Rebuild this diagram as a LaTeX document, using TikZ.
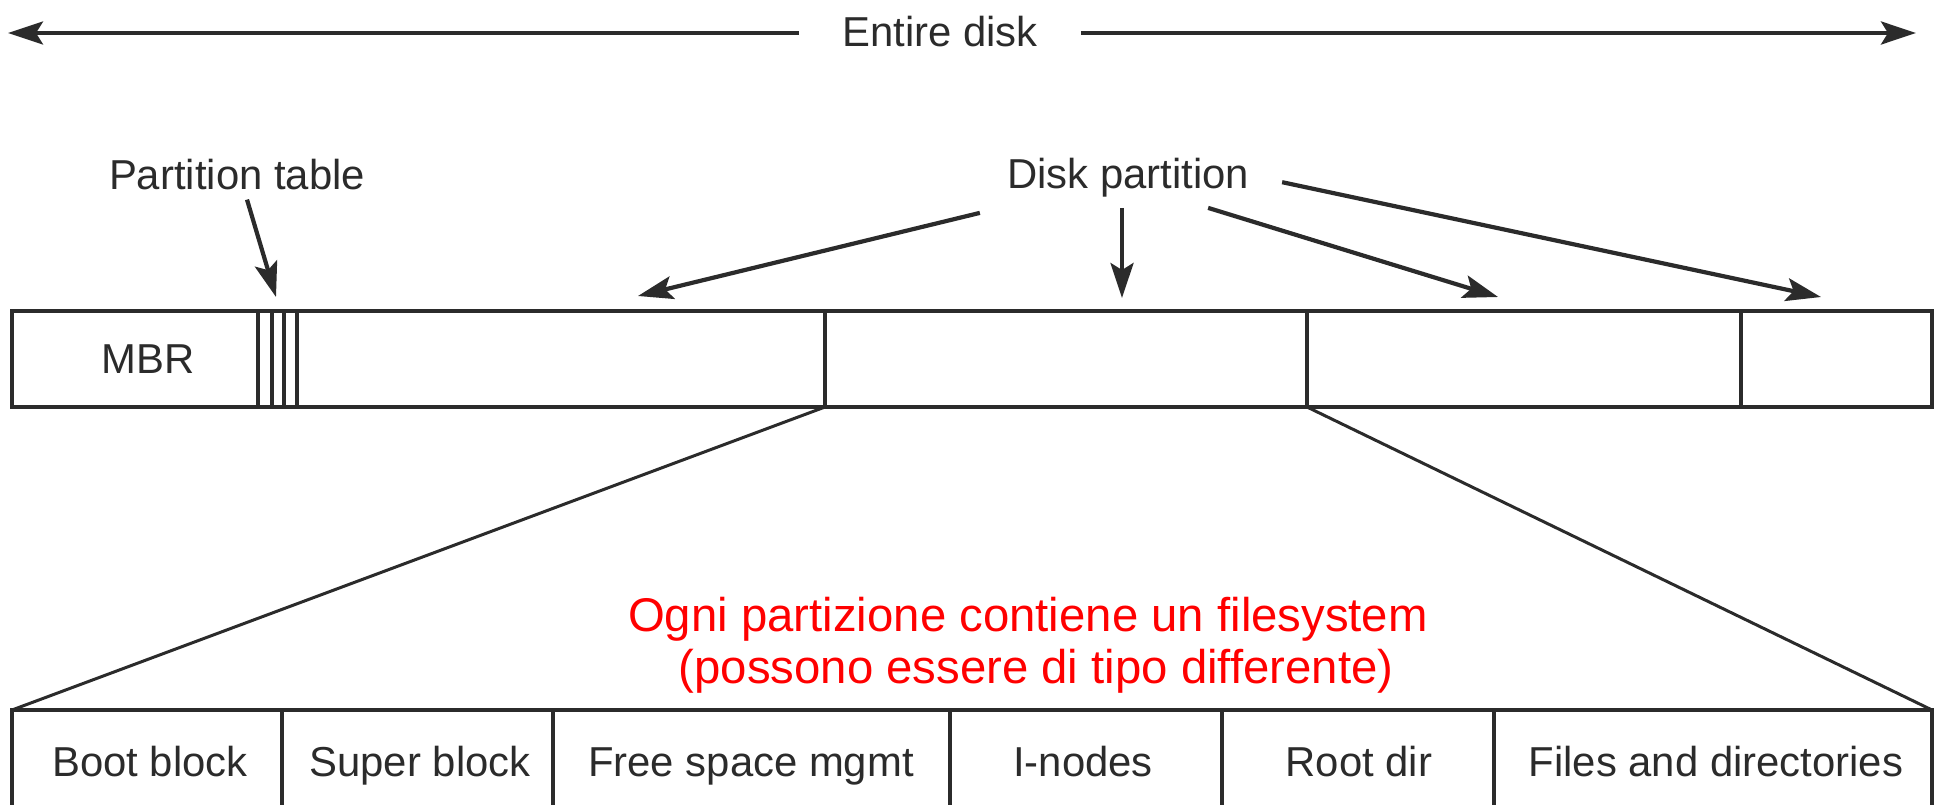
\documentclass[tikz,border=0pt]{standalone}
\usepackage{fontspec}
\setmainfont{Liberation Sans}
\usetikzlibrary{arrows.meta}
\definecolor{ink}{HTML}{2B2B2B}
\definecolor{note}{HTML}{FF0000}
\begin{document}
\begin{tikzpicture}[x=1bp, y=-1bp,
  lbl/.style={font=\fontsize{42}{50}\selectfont, text=ink, inner sep=0pt, anchor=base},
  notetext/.style={font=\fontsize{47.5}{56}\selectfont, text=note, inner sep=0pt, anchor=base},
  bar/.style={draw=ink, line width=4.5bp},
  divider/.style={draw=ink, line width=3.2bp},
  ptrule/.style={draw=ink, line width=3.2bp},
  pointer/.style={draw=ink, line width=4.2bp, -{Stealth[length=35bp, width=23bp, inset=7bp]}},
  fan/.style={draw=ink, line width=3bp},
]
\useasboundingbox (0,0) rectangle (1939,805);

% whole-disk span
\node[lbl, inner xsep=43bp] (entire) at (940,47) {Entire disk};
\coordinate (diskL) at (8,33);
\coordinate (diskR) at (1916,33);
\draw[pointer] (entire.west |- diskL) -- (diskL);
\draw[pointer] (entire.east |- diskR) -- (diskR);

% disk layout bar
\draw[bar] (12,311) rectangle (1932,407);
\foreach \x in {825,1307,1741} \draw[divider] (\x,311) -- (\x,407);
\foreach \x in {258,272,284,297} \draw[ptrule] (\x,311) -- (\x,407);
\node[lbl] (mbr) at (148,373) {MBR};

% labels and pointers
\node[lbl] (ptab) at (237,189) {Partition table};
\coordinate (ptabTip) at (276,297);
\draw[pointer] ([shift={(10,10)}]ptab.south) -- (ptabTip);

\node[lbl] (dpart) at (1128,188) {Disk partition};
\coordinate (t1) at (638,296);
\coordinate (t2) at (1122,298);
\coordinate (t3) at (1498,297);
\coordinate (t4) at (1821,297);
\draw[pointer] ([shift={(-27,16)}]dpart.south west) -- (t1);
\draw[pointer] ([shift={(-6,11)}]dpart.south) -- (t2);
\draw[pointer] ([shift={(-41,11)}]dpart.south east) -- (t3);
\draw[pointer] ([shift={(33,5)}]dpart.east) -- (t4);

% expansion of one partition
\coordinate (partL) at (825,407);
\coordinate (partR) at (1307,407);
\coordinate (fsL) at (12,710);
\coordinate (fsR) at (1932,710);
\draw[fan] (partL) -- (fsL);
\draw[fan] (partR) -- (fsR);

% file system layout bar
\begin{scope}
\clip (0,0) rectangle (1939,805);
\draw[bar] (fsL) rectangle (1932,815);
\foreach \x in {282,553,950,1222,1494} \draw[divider] (\x,710) -- (\x,815);
\end{scope}
\node[lbl] (boot)  at (150,776) {Boot block};
\node[lbl] (super) at (420,776) {Super block};
\node[lbl] (free)  at (751,776) {Free space mgmt};
\node[lbl] (inode) at (1083,776) {I-nodes};
\node[lbl] (root)  at (1359,776) {Root dir};
\node[lbl] (files) at (1716,776) {Files and directories};

% note
\node[notetext] (note1) at (1028,631) {Ogni partizione contiene un filesystem};
\node[notetext] (note2) at (1036,683) {(possono essere di tipo differente)};
\end{tikzpicture}
\end{document}
